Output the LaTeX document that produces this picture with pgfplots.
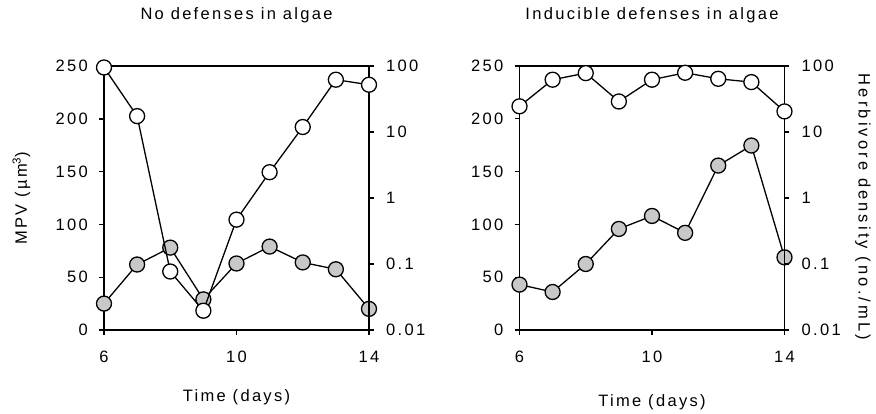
\documentclass[border=0pt]{standalone}
\usepackage{pgfplots}
\pgfplotsset{compat=1.18}
\usepackage{fontspec}
\setmainfont{Liberation Sans}[LetterSpace=14]
\definecolor{mgray}{RGB}{200,200,200}

\pgfplotsset{
  base/.style={
    scale only axis, width=265pt, height=264pt,
    xmin=6, xmax=14, xtick={6,10,14}, clip=false,
    axis line style={line width=1.4pt, black},
    tick style={line width=1.4pt, black},
    tick align=outside, major tick length=5pt,
    /pgf/number format/assume math mode=true,
    yticklabel style={inner sep=0pt},
    xticklabel style={inner sep=0pt, yshift=-16pt},
    every axis title/.style={at={(axis description cs:0.5,1)}, anchor=base, yshift=46.4pt},
  },
  mpv/.style={base, ymin=0, ymax=250, ytick={0,50,100,150,200,250},
    axis y line*=left, xtick pos=left, yticklabel style={xshift=-11pt}},
  dens/.style={base, ymin=0.01, ymax=100,
    ytick={0.01,0.1,1,10,100}, yticklabels={0.01,0.1,1,10,100},
    yminorticks=false, axis y line*=right, axis x line=none,
    yticklabel style={xshift=12pt}},
  gser/.style={black, line width=1.3pt, mark=*, mark size=7.5pt,
    mark options={fill=mgray, draw=black, line width=1.3pt}},
  wser/.style={black, line width=1.3pt, mark=*, mark size=7.5pt,
    mark options={fill=white, draw=black, line width=1.3pt}},
}

\begin{document}
\begin{tikzpicture}[font=\fontsize{16.5}{19.8}\selectfont]
\path[use as bounding box] (0pt,0pt) rectangle (876pt,413pt);

% ---- left panel ----
\begin{axis}[mpv, at={(104pt,83pt)}, anchor=south west,
  title={No defenses in algae},
  xlabel={Time (days)},
  every axis x label/.style={at={(axis description cs:0.5,0)}, anchor=base, yshift=-71pt}]
\addplot[gser] coordinates {(6,25) (7,62) (8,78) (9,29) (10,63) (11,79) (12,64) (13,57.5) (14,20)};
\end{axis}
\begin{semilogyaxis}[dens, at={(104pt,83pt)}, anchor=south west]
\addplot[wser] coordinates {(6,95) (7,17.4) (8,0.077) (9,0.0196) (10,0.47) (11,2.46) (12,11.9) (13,62) (14,52)};
\end{semilogyaxis}

% ---- right panel ----
\begin{axis}[mpv, at={(519.5pt,83pt)}, anchor=south west,
  title={Inducible defenses in algae},
  xlabel={Time (days)},
  every axis x label/.style={at={(axis description cs:0.5,0)}, anchor=base, yshift=-76pt}]
\addplot[gser] coordinates {(6,43) (7,36) (8,62.5) (9,95.7) (10,108) (11,92) (12,155.7) (13,174.7) (14,68.8)};
\end{axis}
\begin{semilogyaxis}[dens, at={(519.5pt,83pt)}, anchor=south west]
\addplot[wser] coordinates {(6,24.5) (7,62) (8,78) (9,29) (10,62) (11,79) (12,64) (13,57) (14,20.5)};
\end{semilogyaxis}

\node[rotate=90, anchor=base] at (27pt,214.7pt) {MPV (µm\textsuperscript{3})};
\node[rotate=-90, anchor=base] at (858.5pt,206pt) {\addfontfeature{LetterSpace=19}Herbivore density (no./mL)};
\end{tikzpicture}
\end{document}
